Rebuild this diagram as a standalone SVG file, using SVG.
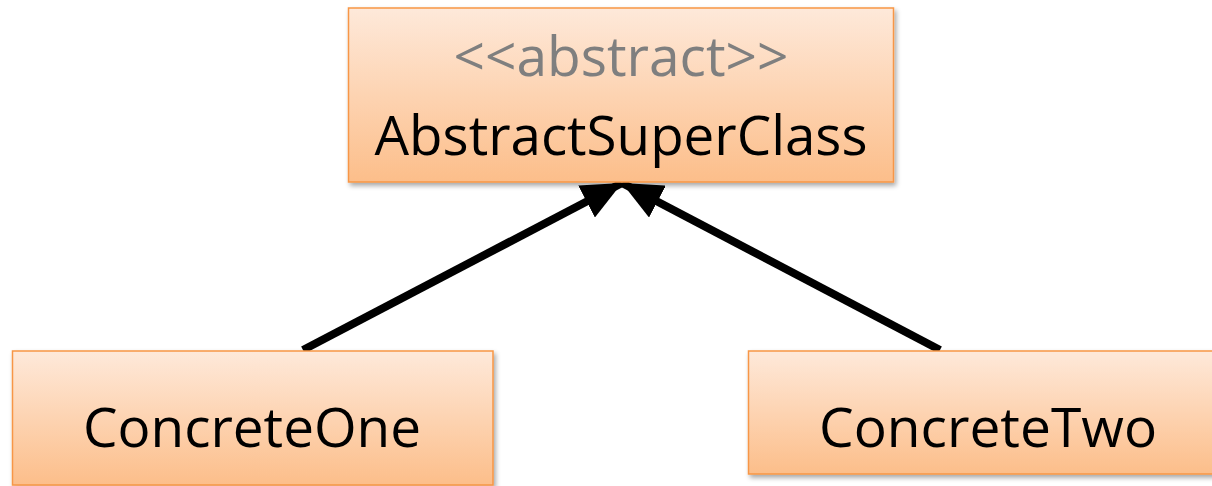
<svg xmlns="http://www.w3.org/2000/svg" width="1212" height="486" viewBox="0 0 1212 486">
  <defs>
    <linearGradient id="fill" x1="0" y1="0" x2="0" y2="1">
      <stop offset="0" stop-color="#FEE9DA"/>
      <stop offset="1" stop-color="#FCBE8A"/>
    </linearGradient>
    <filter id="shadow" x="-10%" y="-10%" width="120%" height="130%">
      <feGaussianBlur in="SourceAlpha" stdDeviation="2.5"/>
      <feOffset dx="2" dy="3" result="b"/>
      <feComponentTransfer><feFuncA type="linear" slope="0.35"/></feComponentTransfer>
      <feMerge><feMergeNode/><feMergeNode in="SourceGraphic"/></feMerge>
    </filter>
    <marker id="arrow" viewBox="0 0 40 36" refX="40" refY="18" markerWidth="40" markerHeight="36" markerUnits="userSpaceOnUse" orient="auto">
      <path d="M0,0 L40,18 L0,36 Z" fill="#000"/>
    </marker>
  </defs>
  <style>
    .box { fill: url(#fill); stroke: #F79646; stroke-width: 1.5; filter: url(#shadow); }
    .label { font-family: "Open Sans", "Noto Sans", sans-serif; font-size: 55px; fill: #000; text-anchor: middle; }
    .stereo { fill: #7F7F7F; }
    .edge { stroke: #000; stroke-width: 8; fill: none; marker-end: url(#arrow); }
  </style>
  <rect width="1212" height="486" fill="#FFFFFF"/>
  <g id="connectors">
    <line class="edge" x1="303" y1="350" x2="622" y2="183"/>
    <line class="edge" x1="940" y1="350" x2="622" y2="183"/>
  </g>
  <g id="AbstractSuperClass">
    <rect class="box" x="348.5" y="8" width="545" height="174"/>
    <text class="label stereo" x="621" y="76" textLength="335" lengthAdjust="spacingAndGlyphs">&lt;&lt;abstract&gt;&gt;</text>
    <text class="label" x="621" y="155" textLength="493" lengthAdjust="spacingAndGlyphs">AbstractSuperClass</text>
  </g>
  <g id="ConcreteOne">
    <rect class="box" x="12.5" y="351" width="480.5" height="134"/>
    <text class="label" x="252" y="447" textLength="338" lengthAdjust="spacingAndGlyphs">ConcreteOne</text>
  </g>
  <g id="ConcreteTwo">
    <rect class="box" x="748.5" y="351" width="480" height="123"/>
    <text class="label" x="988" y="447" textLength="338" lengthAdjust="spacingAndGlyphs">ConcreteTwo</text>
  </g>
</svg>
